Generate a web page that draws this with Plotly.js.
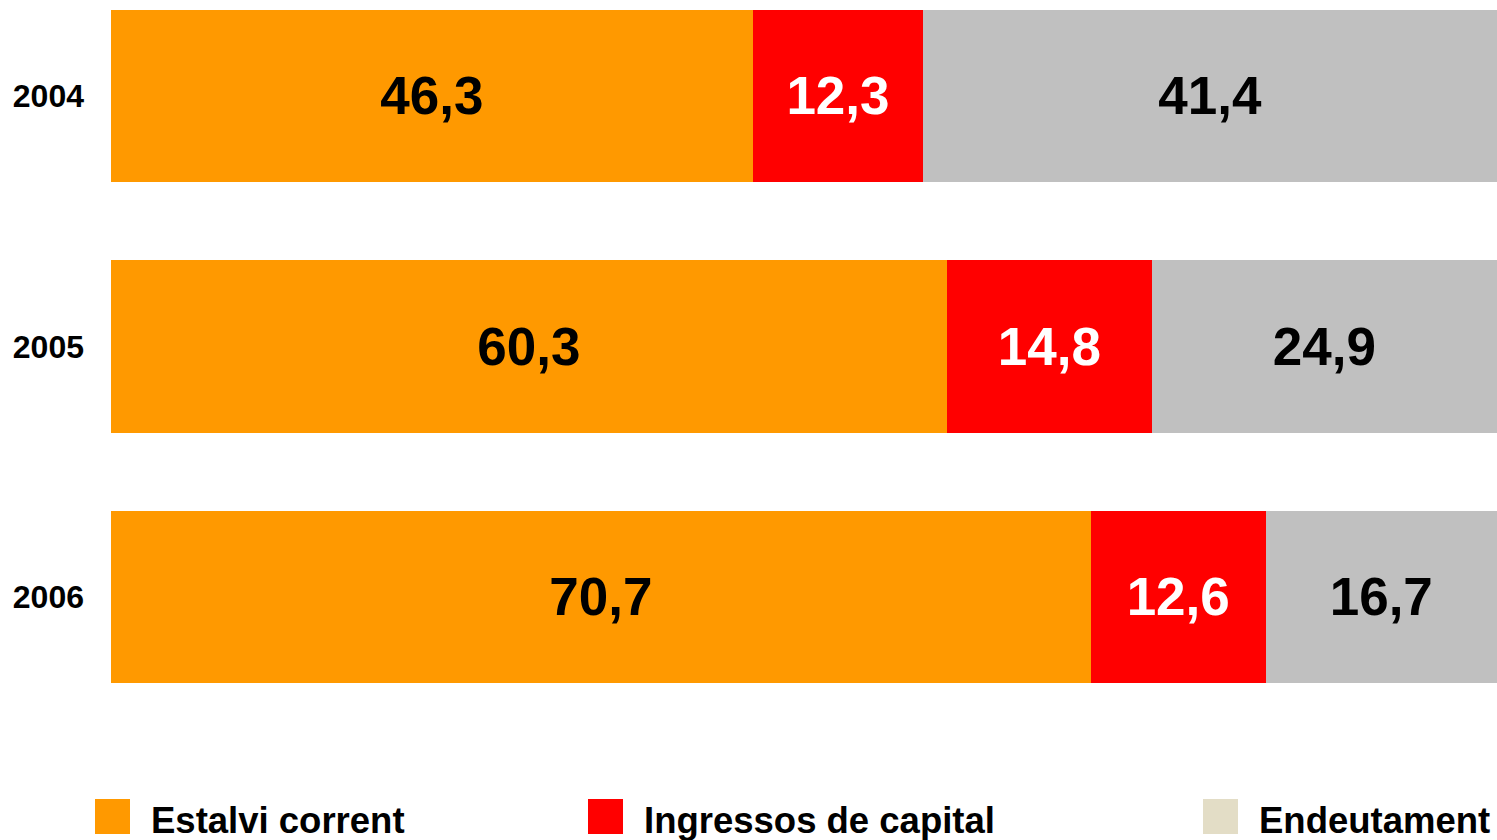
<!DOCTYPE html>
<html>
<head>
<meta charset="utf-8">
<script src="https://cdn.plot.ly/plotly-3.0.1.min.js"></script>
<style>html,body{margin:0;padding:0;background:#fff;}#chart{width:1497px;height:840px;}</style>
</head>
<body>
<div id="chart"></div>
<script>
const years = ['2004', '2005', '2006'];
const seriesNames = ['Estalvi corrent', 'Ingressos de capital', 'Endeutament'];
const estalvi = [46.3, 60.3, 70.7];
const ingressos = [12.3, 14.8, 12.6];
const endeutament = [41.4, 24.9, 16.7];
const barColors = ['#FF9900', '#FF0000', '#C0C0C0'];
const legendColors = ['#FF9900', '#FF0000', '#E3DDC6'];
const labelColors = ['#000000', '#FFFFFF', '#000000'];

const FONT = 'Liberation Sans, Arial, sans-serif';
const fmt = v => v.toFixed(1).replace('.', ',');
const seriesVals = [estalvi, ingressos, endeutament];

const traces = seriesVals.map((vals, i) => ({
  type: 'bar',
  orientation: 'h',
  name: seriesNames[i],
  y: years,
  x: vals,
  marker: {color: barColors[i], line: {width: 0}},
  text: vals.map(fmt),
  textposition: 'inside',
  insidetextanchor: 'middle',
  textangle: 0,
  textfont: {family: FONT, size: 53, color: labelColors[i], weight: 'bold'},
  hoverinfo: 'none',
  cliponaxis: false
}));

const legendX = [95, 588, 1203];
const PL = 111, PW = 1386, H = 840;
const px = p => (p - PL) / PW;
const py = p => 1 - p / H;

const shapes = [];
const annotations = [];
seriesNames.forEach((n, i) => {
  shapes.push({type: 'rect', xref: 'paper', yref: 'paper',
    x0: px(legendX[i]), x1: px(legendX[i] + 35), y0: py(834), y1: py(799),
    fillcolor: legendColors[i], line: {width: 0}});
  annotations.push({xref: 'paper', yref: 'paper', x: px(legendX[i] + 54), y: py(820),
    xanchor: 'left', yanchor: 'middle', showarrow: false, text: '<b>' + n + '</b>',
    font: {family: FONT, size: 36.5, color: '#000'}});
});

const layout = {
  width: 1497, height: 840,
  margin: {l: 111, r: 0, t: 0, b: 0},
  paper_bgcolor: '#fff', plot_bgcolor: '#fff',
  barmode: 'stack',
  bargap: 0.313,
  showlegend: false,
  xaxis: {range: [0, 100], visible: false, fixedrange: true},
  yaxis: {type: 'category', range: [2.970, -0.383], showgrid: false, zeroline: false,
    showline: false, ticks: '', ticklabelstandoff: 26,
    tickfont: {family: FONT, size: 32, color: '#000', weight: 'bold'}},
  shapes: shapes,
  annotations: annotations,
  uniformtext: {mode: false}
};

Plotly.newPlot('chart', traces, layout, {staticPlot: true, displayModeBar: false});
</script>
</body>
</html>
